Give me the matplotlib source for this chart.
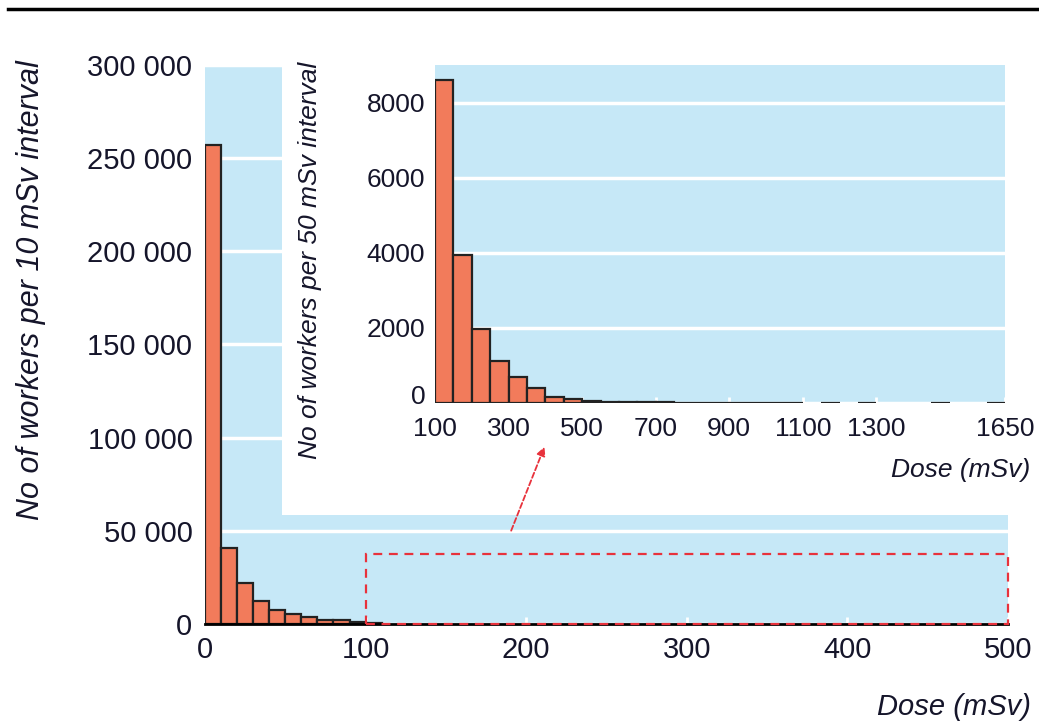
import matplotlib.pyplot as plt
import matplotlib.transforms as mtransforms
from matplotlib.patches import Rectangle
import numpy as np

plt.rcParams['font.family'] = ['Liberation Sans', 'DejaVu Sans']

# Main histogram: workers per 10 mSv interval
main_edges = [0, 10, 20, 30, 40, 50, 60, 70, 80, 90, 100]
main_counts = [257000, 41000, 22000, 12500, 7700, 5100, 3500, 2200, 2000, 900, 700]
main_xticks = [0, 100, 200, 300, 400, 500]
main_yticks = [0, 50000, 100000, 150000, 200000, 250000, 300000]
main_yticklabels = ['0', '50 000', '100 000', '150 000', '200 000', '250 000', '300 000']

# Inset histogram: workers per 50 mSv interval (100 mSv and above)
inset_edges = [100, 150, 200, 250, 300, 350, 400, 450, 500, 550, 600, 650, 700, 750, 800,
               850, 900, 950, 1000, 1050, 1100, 1150, 1200, 1250, 1300, 1350, 1400, 1450,
               1500, 1550, 1600]
inset_counts = [8600, 3950, 1970, 1130, 690, 410, 170, 100, 50, 25, 20, 18, 15, 12, 10,
                9, 8, 7, 6, 5, 0, 4, 0, 4, 0, 0, 0, 3, 0, 0, 3]
inset_xticks = [100, 300, 500, 700, 900, 1100, 1300, 1650]
inset_yticks = [0, 2000, 4000, 6000, 8000]

bar_color = '#F27B5B'
bg_color = '#C6E8F7'
red = '#E8323C'
txt = '#15152a'

fig = plt.figure(figsize=(10.39, 7.27), dpi=100)

# top rule
fig.add_artist(plt.Line2D([0.008, 1.0], [0.987, 0.987], color='black', lw=2.5))

# ---- main axes
ax = fig.add_axes([0.1973, 0.1417, 0.7729, 0.7689])
ax.set_facecolor(bg_color)
ax.set_axisbelow(True)
ax.bar(main_edges, main_counts, width=10, align='edge', color=bar_color,
       edgecolor='#222222', linewidth=1.6, zorder=2)
ax.set_xlim(0, 500)
ax.set_ylim(0, 300000)
ax.set_xticks(main_xticks)
ax.set_yticks(main_yticks)
ax.set_yticklabels(main_yticklabels)
ax.grid(axis='y', color='white', lw=2.5)
for s in ['top', 'right', 'left']:
    ax.spines[s].set_visible(False)
ax.spines['bottom'].set_linewidth(2)
ax.tick_params(axis='x', direction='in', color='white', length=5, width=2,
               labelsize=21, labelcolor=txt, pad=9)
ax.tick_params(axis='y', length=0, labelsize=21, labelcolor=txt, pad=9)

# white area behind the inset
ax.add_patch(Rectangle((48, 58500), 460, 250000, facecolor='white', edgecolor='none',
                       zorder=1, clip_on=False))
# dashed zoom box
ax.add_patch(Rectangle((100, 0), 400, 37500, fill=False, edgecolor=red, lw=1.6,
                       linestyle=(0, (4, 3)), zorder=3, clip_on=False))
ax.annotate('', xy=(212, 96500), xytext=(190, 48700),
            arrowprops=dict(arrowstyle='-|>', color=red, lw=1.3, mutation_scale=13,
                            linestyle=(0, (3, 1.5))), zorder=4)

fig.text(0.030, 0.601, 'No of workers per 10 mSv interval', rotation=90, ha='center',
         va='center', style='italic', fontsize=22, color=txt)
fig.text(0.992, 0.028, 'Dose (mSv)', ha='right', va='center', style='italic',
         fontsize=21, color=txt)

# ---- inset axes
ins = fig.add_axes([0.4187, 0.4457, 0.5486, 0.4649])
ins.set_facecolor(bg_color)
ins.set_axisbelow(True)
edges = np.array(inset_edges)
counts = np.array(inset_counts)
keep = counts > 0
ins.bar(edges[keep], counts[keep], width=50, align='edge', color=bar_color,
        edgecolor='#222222', linewidth=1.6, zorder=2)
ins.set_xlim(100, 1650)
ins.set_ylim(0, 9000)
ins.set_xticks(inset_xticks)
ins.set_yticks(inset_yticks)
ins.grid(axis='y', color='white', lw=2.5)
for s in ins.spines.values():
    s.set_visible(False)
ins.tick_params(axis='x', direction='in', color='white', length=4, width=2,
                labelsize=19, labelcolor=txt, pad=10)
ins.tick_params(axis='y', length=0, labelsize=19, labelcolor=txt, pad=7)
# nudge the inset's "0" label up a little, as in the original
zero_lbl = ins.get_yticklabels()[0]
zero_lbl.set_transform(zero_lbl.get_transform() +
                       mtransforms.ScaledTranslation(0, 6 / 72, fig.dpi_scale_trans))

fig.text(0.298, 0.642, 'No of workers per 50 mSv interval', rotation=90, ha='center',
         va='center', style='italic', fontsize=19, color=txt)
fig.text(0.992, 0.353, 'Dose (mSv)', ha='right', va='center', style='italic',
         fontsize=19, color=txt)

fig.savefig('out.png', dpi=100)
